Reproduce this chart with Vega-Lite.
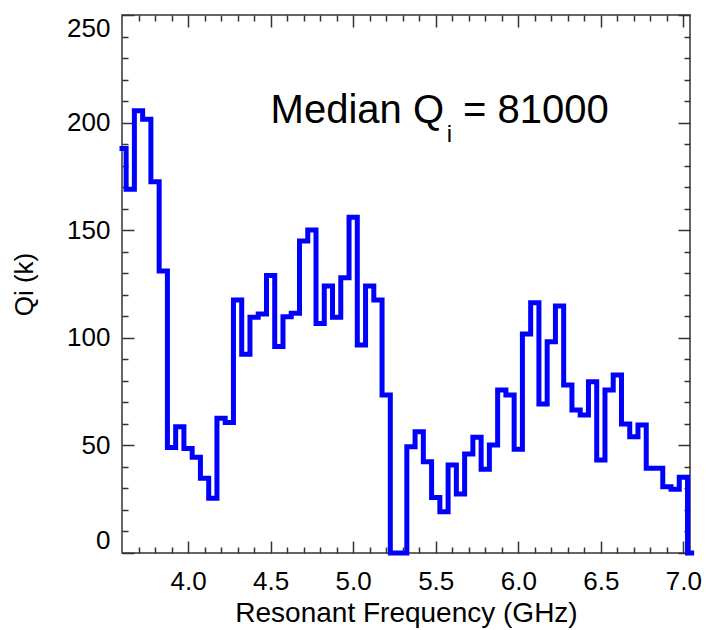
{
  "$schema": "https://vega.github.io/schema/vega-lite/v6.json",
  "width": 568,
  "height": 538,
  "autosize": {"type": "none"},
  "padding": {"left": 122, "top": 15, "right": 16, "bottom": 77},
  "background": "white",
  "config": {
    "view": {"stroke": "#333", "strokeWidth": 1.5},
    "axis": {
      "labelFont": "Liberation Sans",
      "titleFont": "Liberation Sans",
      "labelFontSize": 26,
      "titleFontSize": 26,
      "labelColor": "black",
      "titleColor": "black",
      "titleFontWeight": "normal",
      "tickColor": "#333",
      "tickWidth": 1.5,
      "domain": false,
      "grid": false
    },
    "text": {"font": "Liberation Sans", "color": "black"}
  },
  "datasets": {
    "qi": [
      {"freq": 3.60, "qi": 188},
      {"freq": 3.65, "qi": 169},
      {"freq": 3.70, "qi": 205.5},
      {"freq": 3.75, "qi": 201.5},
      {"freq": 3.80, "qi": 172.5},
      {"freq": 3.85, "qi": 131},
      {"freq": 3.90, "qi": 49},
      {"freq": 3.95, "qi": 58.7},
      {"freq": 4.00, "qi": 48.6},
      {"freq": 4.05, "qi": 44.5},
      {"freq": 4.10, "qi": 34.7},
      {"freq": 4.15, "qi": 25.4},
      {"freq": 4.20, "qi": 62.6},
      {"freq": 4.25, "qi": 60.6},
      {"freq": 4.30, "qi": 117.6},
      {"freq": 4.35, "qi": 92.3},
      {"freq": 4.40, "qi": 109.5},
      {"freq": 4.45, "qi": 111.1},
      {"freq": 4.50, "qi": 128.9},
      {"freq": 4.55, "qi": 95.9},
      {"freq": 4.60, "qi": 109.8},
      {"freq": 4.65, "qi": 111.4},
      {"freq": 4.70, "qi": 145},
      {"freq": 4.75, "qi": 150.1},
      {"freq": 4.80, "qi": 106.7},
      {"freq": 4.85, "qi": 124.1},
      {"freq": 4.90, "qi": 109.5},
      {"freq": 4.95, "qi": 127.9},
      {"freq": 5.00, "qi": 156},
      {"freq": 5.05, "qi": 96.7},
      {"freq": 5.10, "qi": 124.1},
      {"freq": 5.15, "qi": 117.6},
      {"freq": 5.20, "qi": 73.4},
      {"freq": 5.25, "qi": 0},
      {"freq": 5.30, "qi": 0},
      {"freq": 5.35, "qi": 49.4},
      {"freq": 5.40, "qi": 56.4},
      {"freq": 5.45, "qi": 42.4},
      {"freq": 5.50, "qi": 25.8},
      {"freq": 5.55, "qi": 19.2},
      {"freq": 5.60, "qi": 40.9},
      {"freq": 5.65, "qi": 27.4},
      {"freq": 5.70, "qi": 46},
      {"freq": 5.75, "qi": 53.8},
      {"freq": 5.80, "qi": 38.9},
      {"freq": 5.85, "qi": 50.2},
      {"freq": 5.90, "qi": 75.7},
      {"freq": 5.95, "qi": 73.4},
      {"freq": 6.00, "qi": 48.2},
      {"freq": 6.05, "qi": 101.8},
      {"freq": 6.10, "qi": 116.3},
      {"freq": 6.15, "qi": 69.2},
      {"freq": 6.20, "qi": 98.2},
      {"freq": 6.25, "qi": 114.8},
      {"freq": 6.30, "qi": 78.1},
      {"freq": 6.35, "qi": 66.4},
      {"freq": 6.40, "qi": 64.1},
      {"freq": 6.45, "qi": 79.6},
      {"freq": 6.50, "qi": 43.2},
      {"freq": 6.55, "qi": 75.7},
      {"freq": 6.60, "qi": 82.7},
      {"freq": 6.65, "qi": 59.9},
      {"freq": 6.70, "qi": 54.0},
      {"freq": 6.75, "qi": 59.5},
      {"freq": 6.80, "qi": 39.4},
      {"freq": 6.85, "qi": 39.4},
      {"freq": 6.90, "qi": 30.8},
      {"freq": 6.95, "qi": 29.6},
      {"freq": 7.00, "qi": 35.2},
      {"freq": 7.05, "qi": 0}
    ]
  },
  "layer": [
    {
      "data": {"name": "qi"},
      "mark": {"type": "line", "interpolate": "step", "color": "#0000FF", "strokeWidth": 5, "strokeJoin": "miter", "strokeCap": "square", "clip": false},
      "encoding": {
        "x": {"field": "freq", "type": "quantitative",
              "scale": {"domain": [3.6, 7.04], "nice": false, "zero": false},
              "axis": {"orient": "bottom", "values": [4.0, 4.5, 5.0, 5.5, 6.0, 6.5, 7.0], "format": ".1f", "tickSize": -12, "labelPadding": 27, "labelFlush": false, "title": "Resonant Frequency (GHz)", "titleFontSize": 28, "titlePadding": 5}},
        "y": {"field": "qi", "type": "quantitative",
              "scale": {"domain": [0, 250], "nice": false, "zero": false},
              "axis": {"orient": "left", "values": [0, 50, 100, 150, 200, 250], "tickSize": -12, "labelPadding": 24, "labelFlush": true, "title": "Qi (k)", "titlePadding": 29}}
      }
    },
    {
      "data": {"name": "qi"},
      "mark": {"type": "line", "opacity": 0},
      "encoding": {
        "x": {"field": "freq", "type": "quantitative",
              "scale": {"domain": [3.6, 7.04], "nice": false, "zero": false},
              "axis": {"orient": "bottom", "values": [3.7, 3.8, 3.9, 4.1, 4.2, 4.3, 4.4, 4.6, 4.7, 4.8, 4.9, 5.1, 5.2, 5.3, 5.4, 5.6, 5.7, 5.8, 5.9, 6.1, 6.2, 6.3, 6.4, 6.6, 6.7, 6.8, 6.9], "tickSize": -6, "labels": false, "title": null}},
        "y": {"field": "qi", "type": "quantitative",
              "scale": {"domain": [0, 250], "nice": false, "zero": false},
              "axis": {"orient": "left", "values": [10, 20, 30, 40, 60, 70, 80, 90, 110, 120, 130, 140, 160, 170, 180, 190, 210, 220, 230, 240], "tickSize": -6, "labels": false, "title": null}}
      }
    },
    {
      "data": {"name": "qi"},
      "mark": {"type": "line", "opacity": 0},
      "encoding": {
        "x": {"field": "freq", "type": "quantitative",
              "scale": {"domain": [3.6, 7.04], "nice": false, "zero": false},
              "axis": {"orient": "top", "values": [4.0, 4.5, 5.0, 5.5, 6.0, 6.5, 7.0], "tickSize": -12, "labels": false, "title": null}},
        "y": {"field": "qi", "type": "quantitative",
              "scale": {"domain": [0, 250], "nice": false, "zero": false},
              "axis": {"orient": "right", "values": [0, 50, 100, 150, 200, 250], "tickSize": -12, "labels": false, "title": null}}
      }
    },
    {
      "data": {"name": "qi"},
      "mark": {"type": "line", "opacity": 0},
      "encoding": {
        "x": {"field": "freq", "type": "quantitative",
              "scale": {"domain": [3.6, 7.04], "nice": false, "zero": false},
              "axis": {"orient": "top", "values": [3.7, 3.8, 3.9, 4.1, 4.2, 4.3, 4.4, 4.6, 4.7, 4.8, 4.9, 5.1, 5.2, 5.3, 5.4, 5.6, 5.7, 5.8, 5.9, 6.1, 6.2, 6.3, 6.4, 6.6, 6.7, 6.8, 6.9], "tickSize": -6, "labels": false, "title": null}},
        "y": {"field": "qi", "type": "quantitative",
              "scale": {"domain": [0, 250], "nice": false, "zero": false},
              "axis": {"orient": "right", "values": [10, 20, 30, 40, 60, 70, 80, 90, 110, 120, 130, 140, 160, 170, 180, 190, 210, 220, 230, 240], "tickSize": -6, "labels": false, "title": null}}
      }
    },
    {
      "data": {"values": [{"label": "Median Q"}]},
      "mark": {"type": "text", "align": "left", "baseline": "alphabetic", "fontSize": 40},
      "encoding": {
        "x": {"datum": 4.5, "type": "quantitative", "axis": null},
        "y": {"datum": 200, "type": "quantitative", "axis": null},
        "text": {"field": "label"}
      }
    },
    {
      "data": {"values": [{"label": "i"}]},
      "mark": {"type": "text", "align": "left", "baseline": "alphabetic", "fontSize": 24},
      "encoding": {
        "x": {"datum": 5.567, "type": "quantitative", "axis": null},
        "y": {"datum": 191, "type": "quantitative", "axis": null},
        "text": {"field": "label"}
      }
    },
    {
      "data": {"values": [{"label": "= 81000"}]},
      "mark": {"type": "text", "align": "left", "baseline": "alphabetic", "fontSize": 40},
      "encoding": {
        "x": {"datum": 5.665, "type": "quantitative", "axis": null},
        "y": {"datum": 200, "type": "quantitative", "axis": null},
        "text": {"field": "label"}
      }
    }
  ],
  "resolve": {"axis": {"x": "independent", "y": "independent"}}
}
